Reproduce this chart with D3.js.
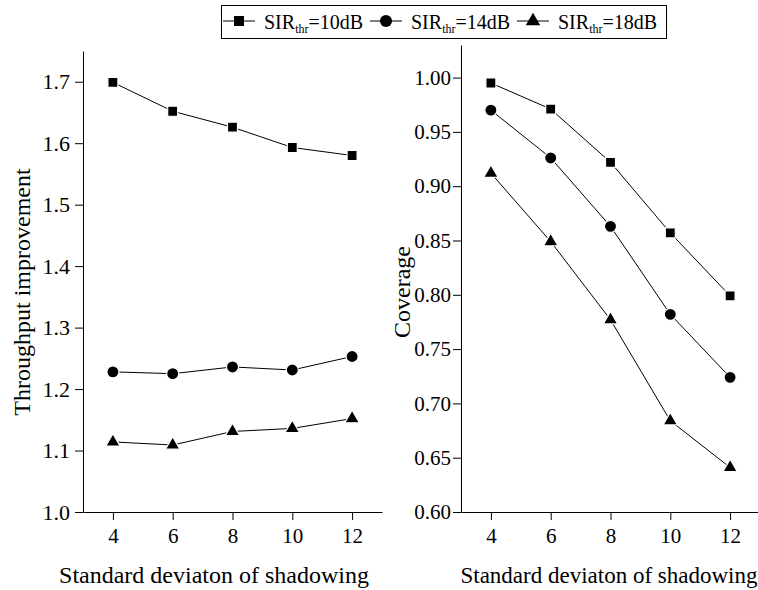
<!DOCTYPE html>
<html>
<head>
<meta charset="utf-8">
<script src="https://cdn.jsdelivr.net/npm/d3@7"></script>
<style>
  body { margin: 0; background: #fff; }
  svg text { font-family: "Liberation Serif", "Times New Roman", serif; fill: #000; }
</style>
</head>
<body>
<svg width="758" height="590"></svg>
<script>
// shadowing std deviation (x values)
var sd = [4, 6, 8, 10, 12];
var sirLabels = ["=10dB", "=14dB", "=18dB"];

// throughput improvement, one array per SIR threshold
var thr10 = [1.699, 1.652, 1.626, 1.593, 1.580];
var thr14 = [1.228, 1.225, 1.236, 1.231, 1.253];
var thr18 = [1.114, 1.109, 1.131, 1.136, 1.152];

// coverage
var cov10 = [0.995, 0.971, 0.922, 0.857, 0.799];
var cov14 = [0.970, 0.926, 0.863, 0.782, 0.724];
var cov18 = [0.912, 0.849, 0.777, 0.684, 0.641];

var leftTicks = [1.0, 1.1, 1.2, 1.3, 1.4, 1.5, 1.6, 1.7];
var rightTicks = [0.60, 0.65, 0.70, 0.75, 0.80, 0.85, 0.90, 0.95, 1.00];

var symbols = [d3.symbolSquare, d3.symbolCircle, d3.symbolTriangle];
var symSize = [100, 115, 90];
var serif = "Liberation Serif, Times New Roman, serif";

var svg = d3.select("svg");

var xL = d3.scaleLinear().domain([3, 13]).range([83, 382]);
var yL = d3.scaleLinear().domain([1.0, 1.75]).range([512, 51]);
var xR = d3.scaleLinear().domain([3, 13]).range([461, 760]);
var yR = d3.scaleLinear().domain([0.6, 1.03]).range([512, 45]);

function drawPanel(x, y, ticks, fmt, series, opt) {
  var g = svg.append("g");

  var xa = g.append("g")
      .attr("transform", "translate(0," + y.range()[0] + ")")
      .call(d3.axisBottom(x).tickValues(sd).tickSize(8).tickSizeOuter(0).tickPadding(8));
  xa.attr("font-family", serif).attr("font-size", 21);

  var ya = g.append("g")
      .attr("transform", "translate(" + x.range()[0] + ",0)")
      .call(d3.axisLeft(y).tickValues(ticks).tickFormat(d3.format(fmt)).tickSize(8).tickSizeOuter(0).tickPadding(opt.ypad));
  ya.attr("font-family", serif).attr("font-size", opt.yfs);

  g.selectAll(".domain, .tick line").attr("stroke", "#000").attr("stroke-width", 1);

  var line = d3.line()
      .x(function(d, i) { return x(sd[i]); })
      .y(function(d) { return y(d); });

  series.forEach(function(s, k) {
    g.append("path")
        .datum(s)
        .attr("fill", "none")
        .attr("stroke", "#000")
        .attr("stroke-width", 1)
        .attr("d", line);

    g.selectAll(".m" + k)
        .data(s)
        .enter()
      .append("path")
        .attr("class", "m" + k)
        .attr("transform", function(d, i) { return "translate(" + x(sd[i]) + "," + y(d) + ")"; })
        .attr("d", d3.symbol().type(symbols[k]).size(symSize[k]))
        .attr("fill", "#000")
        .attr("stroke", "#fff")
        .attr("stroke-width", 1.2);
  });

  g.append("text")
      .attr("transform", "translate(" + opt.ytx + ",292) rotate(-90)")
      .attr("text-anchor", "middle")
      .style("font-size", "24px")
      .text(opt.ytitle);

  g.append("text")
      .attr("x", opt.xtx)
      .attr("y", 583)
      .attr("text-anchor", "middle")
      .style("font-size", opt.xfs + "px")
      .text("Standard deviaton of shadowing");
}

drawPanel(xL, yL, leftTicks, ".1f", [thr10, thr14, thr18],
  { ytitle: "Throughput improvement", ytx: 30, xtx: 214, xfs: 24, yfs: 22, ypad: 5 });
drawPanel(xR, yR, rightTicks, ".2f", [cov10, cov14, cov18],
  { ytitle: "Coverage", ytx: 410, xtx: 609, xfs: 23, yfs: 21, ypad: 2 });

// legend
var legend = svg.append("g");
legend.append("rect")
    .attr("x", 221.5).attr("y", 5.5)
    .attr("width", 445).attr("height", 33)
    .attr("fill", "#fff")
    .attr("stroke", "#000");

var legX = [239, 386, 533];
sirLabels.forEach(function(lab, k) {
  var item = legend.append("g").attr("transform", "translate(" + legX[k] + ",21)");
  item.append("line").attr("x1", -16).attr("x2", 16).attr("y1", 0).attr("y2", 0).attr("stroke", "#000");
  item.append("path")
      .attr("d", d3.symbol().type(symbols[k]).size(symSize[k]))
      .attr("fill", "#000");
  var t = item.append("text")
      .attr("x", 25)
      .attr("y", 8)
      .style("font-size", "20px");
  t.append("tspan").text("SIR");
  t.append("tspan").attr("dy", 4).style("font-size", "12px").text("thr");
  t.append("tspan").attr("dy", -4).text(lab);
});
</script>
</body>
</html>
